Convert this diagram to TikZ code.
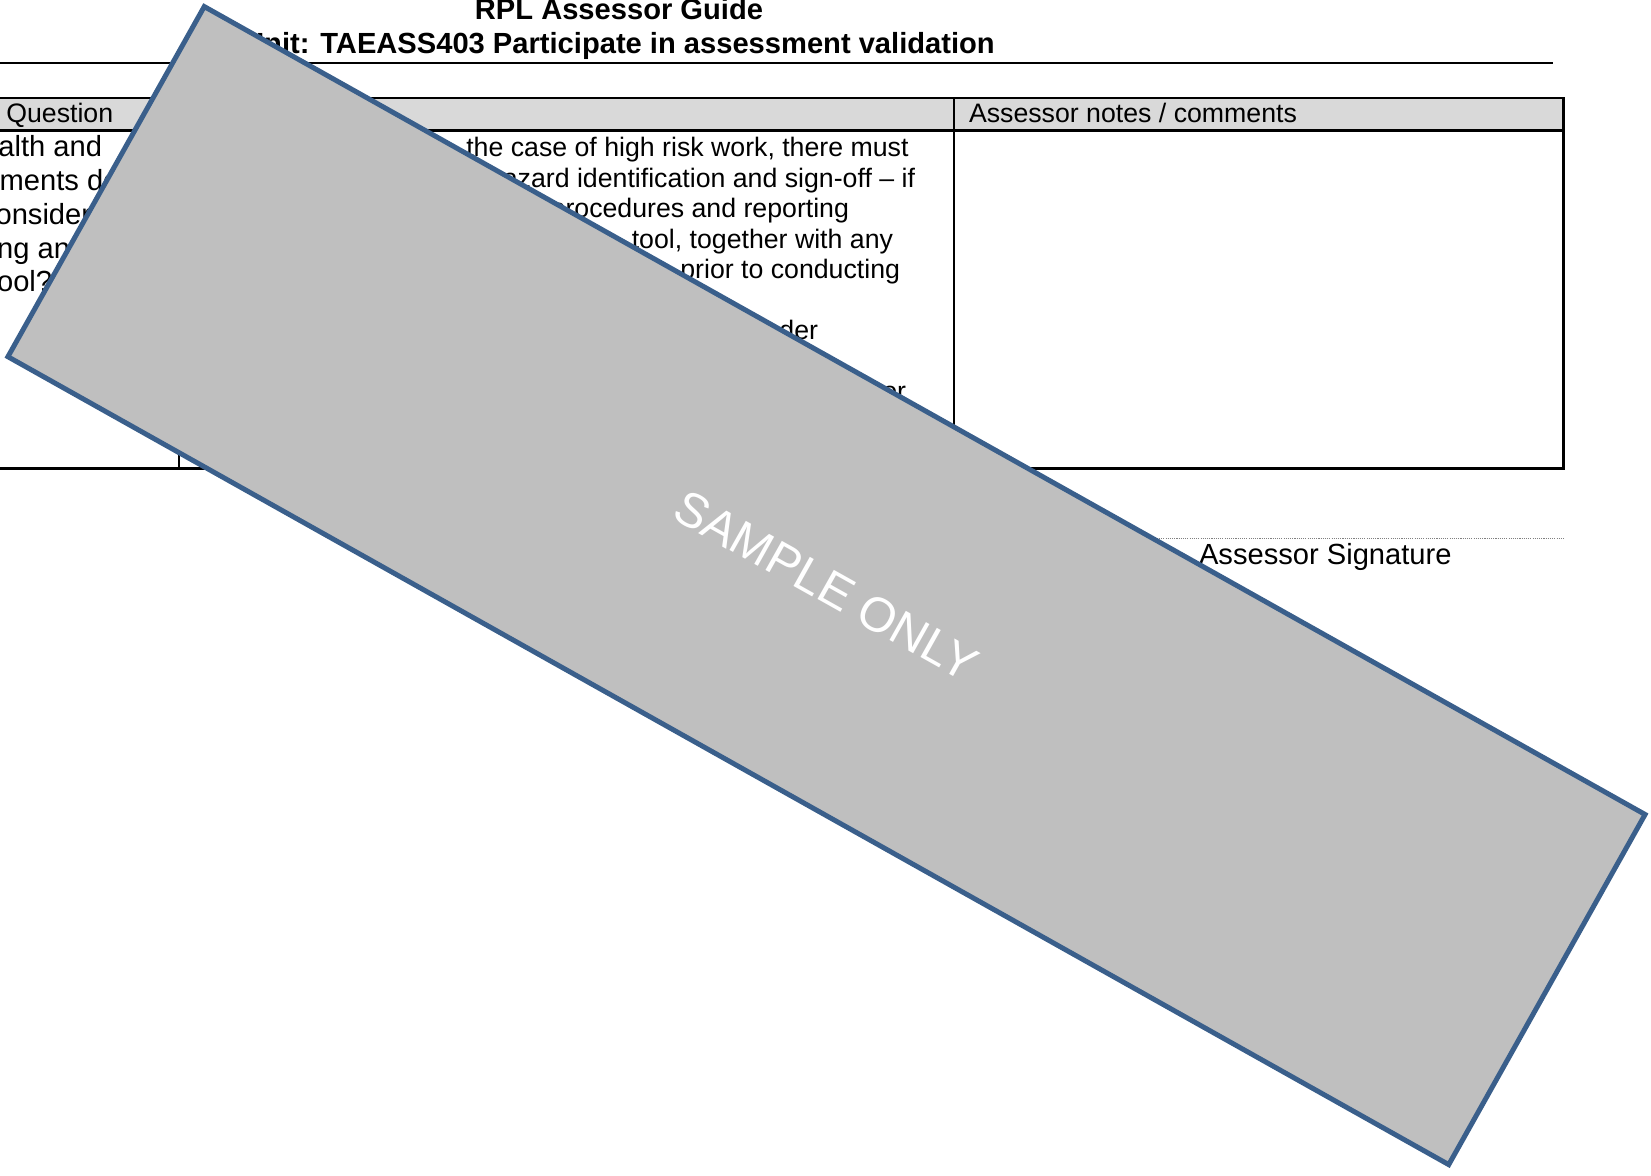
\documentclass[tikz,border=0pt]{standalone}
\usepackage{fontspec}
\setmainfont{Liberation Sans}
\definecolor{hdrfill}{HTML}{D9D9D9}
\definecolor{wmfill}{HTML}{BFBFBF}
\definecolor{wmline}{HTML}{3A5F8B}
\begin{document}
\begin{tikzpicture}[x=0.412pt,y=-0.412pt,
  txts/.style={inner sep=0pt, outer sep=0pt, font=\fontsize{11}{13}\selectfont},
  txtl/.style={inner sep=0pt, outer sep=0pt, font=\fontsize{12}{14}\selectfont},
  ttl/.style={inner sep=0pt, outer sep=0pt, font=\fontsize{12}{14}\selectfont\bfseries},
  tblrule/.style={line width=0.85pt, black},
  sigline/.style={line width=0.4pt, gray, dash pattern=on 0.45pt off 0.45pt},
  wmbox/.style={draw=wmline, line width=2.05pt, fill=wmfill, inner sep=0pt,
    minimum width=680.6pt, minimum height=165.4pt, rotate=-29.28,
    text=white, font=\fontsize{20}{24}\selectfont}
]
\useasboundingbox (0,0) rectangle (1651,1176);
% titles
\node[ttl, anchor=base] (t1) at (619,20) {RPL Assessor Guide};
\node[ttl, anchor=base] (t2) at (619,53.5) {Unit: TAEASS403 Participate in assessment validation};
\coordinate (rl) at (-10,63);
\coordinate (rr) at (1553,63);
\draw[tblrule] (rl) -- (rr);
% table
\coordinate (tl) at (-10,98);
\coordinate (br) at (1563.5,468.5);
\fill[hdrfill] (tl) rectangle (1563.5,130.5);
\draw[tblrule] (tl) rectangle (br);
\draw[tblrule] (-10,130.5) -- (1563.5,130.5);
\draw[tblrule] (179,98) -- (179,468.5);
\draw[tblrule] (954,98) -- (954,468.5);
% headers
\node[txts, anchor=base west] (hq) at (6.3,123) {Question};
\node[txts, anchor=base west] (hn) at (969,123) {Assessor notes / comments};
% column 1
\node[txtl, anchor=base west] (q1) at (-34,157) {health and};
\node[txtl, anchor=base west] (q2) at (-91,190.7) {requirements do};
\node[txtl, anchor=base west] (q3) at (-19,224.4) {considered};
\node[txtl, anchor=base west] (q4) at (-40,258.1) {using an};
\node[txtl, anchor=base west] (q5) at (-11,291.8) {tool?};
% column 2
\node[txts, anchor=base east] (a1) at (908.5,157) {the case of high risk work, there must};
\node[txts, anchor=base east] (a2) at (915,187.5) {hazard identification and sign-off – if};
\node[txts, anchor=base east] (a3) at (849,218) {procedures and reporting};
\node[txts, anchor=base east] (a4) at (893,248.5) {tool, together with any};
\node[txts, anchor=base east] (a5) at (900,279) {prior to conducting};
\node[txts, anchor=base east] (a7) at (818,340) {under};
\node[txts, anchor=base east] (a9) at (906,401) {or};
% signature
\coordinate (s1) at (1100,538);
\coordinate (s2) at (1564,538);
\draw[sigline] (s1) -- (s2);
\node[txtl, anchor=base west] (sig) at (1199,565) {Assessor Signature};
% watermark
\node[wmbox] (wm) at (826.5,585.6) {SAMPLE ONLY};
\end{tikzpicture}
\end{document}
